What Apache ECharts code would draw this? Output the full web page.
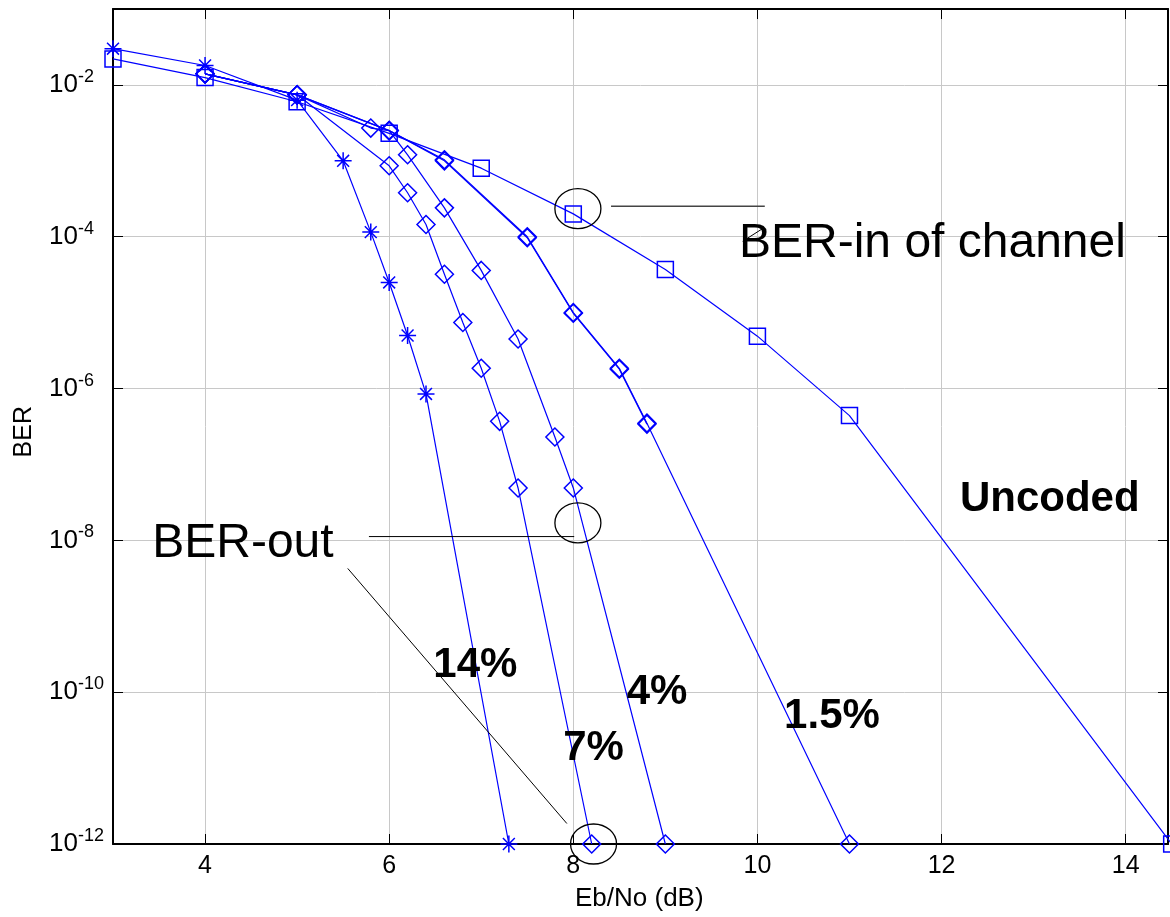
<!DOCTYPE html>
<html><head><meta charset="utf-8">
<script src="https://cdn.jsdelivr.net/npm/echarts@6/dist/echarts.min.js"></script>
<style>html,body{margin:0;padding:0;background:#fff}#c{width:1170px;height:917px}</style>
</head><body><div id="c"></div>
<script>
// ---- data ----
const xTicks = [4, 6, 8, 10, 12, 14];
const yTicks = [1e-12, 1e-10, 1e-8, 1e-6, 1e-4, 1e-2];

const uncodedX = [3, 4, 5, 6, 7, 8, 9, 10, 11, 14.5];
const uncodedY = [2.2e-2, 1.25e-2, 6.0e-3, 2.3e-3, 8.0e-4, 2.0e-4, 3.7e-5, 4.9e-6, 4.4e-7, 1e-12];

const p14X = [3, 4, 5, 5.5, 5.8, 6, 6.2, 6.4, 7.3];
const p14Y = [3.0e-2, 1.8e-2, 6.3e-3, 1.0e-3, 1.15e-4, 2.5e-5, 5.0e-6, 8.5e-7, 1e-12];

const p7X = [4, 5, 6, 6.2, 6.4, 6.6, 6.8, 7, 7.2, 7.4, 8.2];
const p7Y = [1.4e-2, 7.4e-3, 8.6e-4, 3.8e-4, 1.45e-4, 3.2e-5, 7.4e-6, 1.85e-6, 3.7e-7, 4.9e-8, 1e-12];

const p4X = [4, 5, 6, 6.2, 6.6, 7, 7.4, 7.8, 8, 9];
const p4Y = [1.4e-2, 7.4e-3, 2.5e-3, 1.2e-3, 2.4e-4, 3.6e-5, 4.5e-6, 2.3e-7, 4.9e-8, 1e-12];

const p15X = [4, 5, 6, 6.6, 7.5, 8, 8.5, 8.8, 11];
const p15Y = [1.4e-2, 7.4e-3, 2.5e-3, 1.03e-3, 1.0e-4, 1.0e-5, 1.85e-6, 3.5e-7, 1e-12];

const p15bX = [4, 5, 5.8, 6, 6.6, 7.5, 8, 8.5, 8.8];
const p15bY = [1.4e-2, 7.4e-3, 2.7e-3, 2.5e-3, 1.0e-3, 9.7e-5, 9.8e-6, 1.8e-6, 3.4e-7];

// annotation anchors in data space [x, log10(BER)]
const ellipses = [[8.05, -3.63], [8.05, -7.77], [8.22, -12.0]];
const leaderLines = [
  [[8.41, -3.60], [10.08, -3.60], '#444', 1.5],
  [[9.84, -4.06], [10.06, -3.89], '#000', 1],
  [[5.78, -7.95], [8.01, -7.95], '#000', 1],
  [[5.55, -8.37], [7.93, -11.73], '#000', 1]
];
const labels = [
  ['BER-in of channel', 9.80, -4.32, 48, 'normal'],
  ['BER-out', 3.426, -8.26, 48, 'normal'],
  ['14%', 6.48, -9.84, 42, 'bold'],
  ['4%', 8.58, -10.20, 42, 'bold'],
  ['7%', 7.89, -10.94, 42, 'bold'],
  ['1.5%', 10.29, -10.51, 42, 'bold'],
  ['Uncoded', 12.20, -7.65, 42, 'bold']
];

// ---- chart ----
const FONT = '"Liberation Sans", Arial, Helvetica, sans-serif';
const BLUE = '#0000ff';
const ASTERISK = 'path://M10 0L10 20M0 10L20 10M3 3L17 17M3 17L17 3';

function zip(xs, ys) { return xs.map((x, i) => [x, ys[i]]); }
function mk(name, xs, ys, symbol, size) {
  return {
    name: name, type: 'line', xAxisIndex: 0, yAxisIndex: 0,
    data: zip(xs, ys), symbol: symbol, symbolSize: size,
    showAllSymbol: true, clip: false, animation: false, silent: true,
    lineStyle: { color: BLUE, width: 1.2 },
    itemStyle: { color: 'rgba(0,0,0,0)', borderColor: BLUE, borderWidth: 1.5 },
    emphasis: { disabled: true }
  };
}

const chart = echarts.init(document.getElementById('c'), null, { renderer: 'canvas' });
const axisLineStyle = { color: '#000', width: 2 };
const option = {
  animation: false,
  backgroundColor: '#fff',
  grid: { left: 113, right: 2, top: 9, bottom: 73, outerBoundsMode: 'none', containLabel: false },
  xAxis: [
    {
      type: 'value', min: 3, max: 14.46, position: 'bottom',
      axisLine: { show: true, onZero: false, lineStyle: axisLineStyle },
      axisTick: { show: true, inside: true, length: 10, customValues: xTicks, lineStyle: { color: '#000', width: 1 } },
      axisLabel: { show: true, customValues: xTicks, color: '#000', fontSize: 25, fontFamily: FONT, margin: 10 },
      splitLine: { show: true, lineStyle: { color: '#c8c8c8', width: 1 } }
    },
    {
      type: 'value', min: 3, max: 14.46, position: 'top',
      axisLine: { show: true, onZero: false, lineStyle: axisLineStyle },
      axisTick: { show: true, inside: true, length: 10, customValues: xTicks, lineStyle: { color: '#000', width: 1 } },
      axisLabel: { show: false },
      splitLine: { show: false }
    }
  ],
  yAxis: [
    {
      type: 'log', logBase: 10, min: 1e-12, max: 1e-1, position: 'left',
      axisLine: { show: true, onZero: false, lineStyle: axisLineStyle },
      axisTick: { show: true, inside: true, length: 10, customValues: yTicks, lineStyle: { color: '#000', width: 1 } },
      axisLabel: {
        show: true, customValues: yTicks, align: 'left', margin: 64,
        formatter: function (v) { return '{b|10}{s|' + Math.round(Math.log10(v)) + '}'; },
        rich: {
          b: { fontSize: 26, lineHeight: 34, color: '#000', fontFamily: FONT },
          s: { fontSize: 18, lineHeight: 18, verticalAlign: 'top', color: '#000', fontFamily: FONT }
        }
      },
      splitLine: { show: true, lineStyle: { color: '#c8c8c8', width: 1 } }
    },
    {
      type: 'log', logBase: 10, min: 1e-12, max: 1e-1, position: 'right',
      axisLine: { show: true, onZero: false, lineStyle: axisLineStyle },
      axisTick: { show: true, inside: true, length: 10, customValues: yTicks, lineStyle: { color: '#000', width: 1 } },
      axisLabel: { show: false },
      splitLine: { show: false }
    }
  ],
  series: [
    mk('Uncoded', uncodedX, uncodedY, 'rect', 16),
    mk('14%', p14X, p14Y, ASTERISK, 17),
    mk('7%', p7X, p7Y, 'diamond', 18),
    mk('4%', p4X, p4Y, 'diamond', 18),
    mk('1.5%', p15X, p15Y, 'diamond', 18),
    mk('1.5% b', p15bX, p15bY, 'diamond', 18)
  ]
};
chart.setOption(option);

function px(x, ly) { return chart.convertToPixel({ xAxisIndex: 0, yAxisIndex: 0 }, [x, Math.pow(10, ly)]); }

const graphics = [];
ellipses.forEach(function (e) {
  const p = px(e[0], e[1]);
  graphics.push({ type: 'ellipse', silent: true, z: 100, shape: { cx: p[0], cy: p[1], rx: 23, ry: 20 },
    style: { fill: 'none', stroke: '#000', lineWidth: 1.3 } });
});
leaderLines.forEach(function (l) {
  const a = px(l[0][0], l[0][1]), b = px(l[1][0], l[1][1]);
  graphics.push({ type: 'line', silent: true, z: 100, shape: { x1: a[0], y1: a[1], x2: b[0], y2: b[1] },
    style: { stroke: l[2], lineWidth: l[3] } });
});
labels.forEach(function (t) {
  const p = px(t[1], t[2]);
  graphics.push({ type: 'text', silent: true, z: 101, x: p[0], y: p[1] - 0.35 * t[3],
    style: { text: t[0], fill: '#000', font: t[4] + ' ' + t[3] + 'px ' + FONT, align: 'left', verticalAlign: 'middle' } });
});
// axis titles
graphics.push({ type: 'text', silent: true, z: 101, x: 575, y: 898.6,
  style: { text: 'Eb/No (dB)', fill: '#000', font: '26px ' + FONT, align: 'left', verticalAlign: 'middle' } });
graphics.push({ type: 'text', silent: true, z: 101, x: 24, y: 431.7, rotation: Math.PI / 2,
  style: { text: 'BER', fill: '#000', font: '25px ' + FONT, align: 'center', verticalAlign: 'middle' } });

chart.setOption({ graphic: graphics });
</script>
</body></html>
